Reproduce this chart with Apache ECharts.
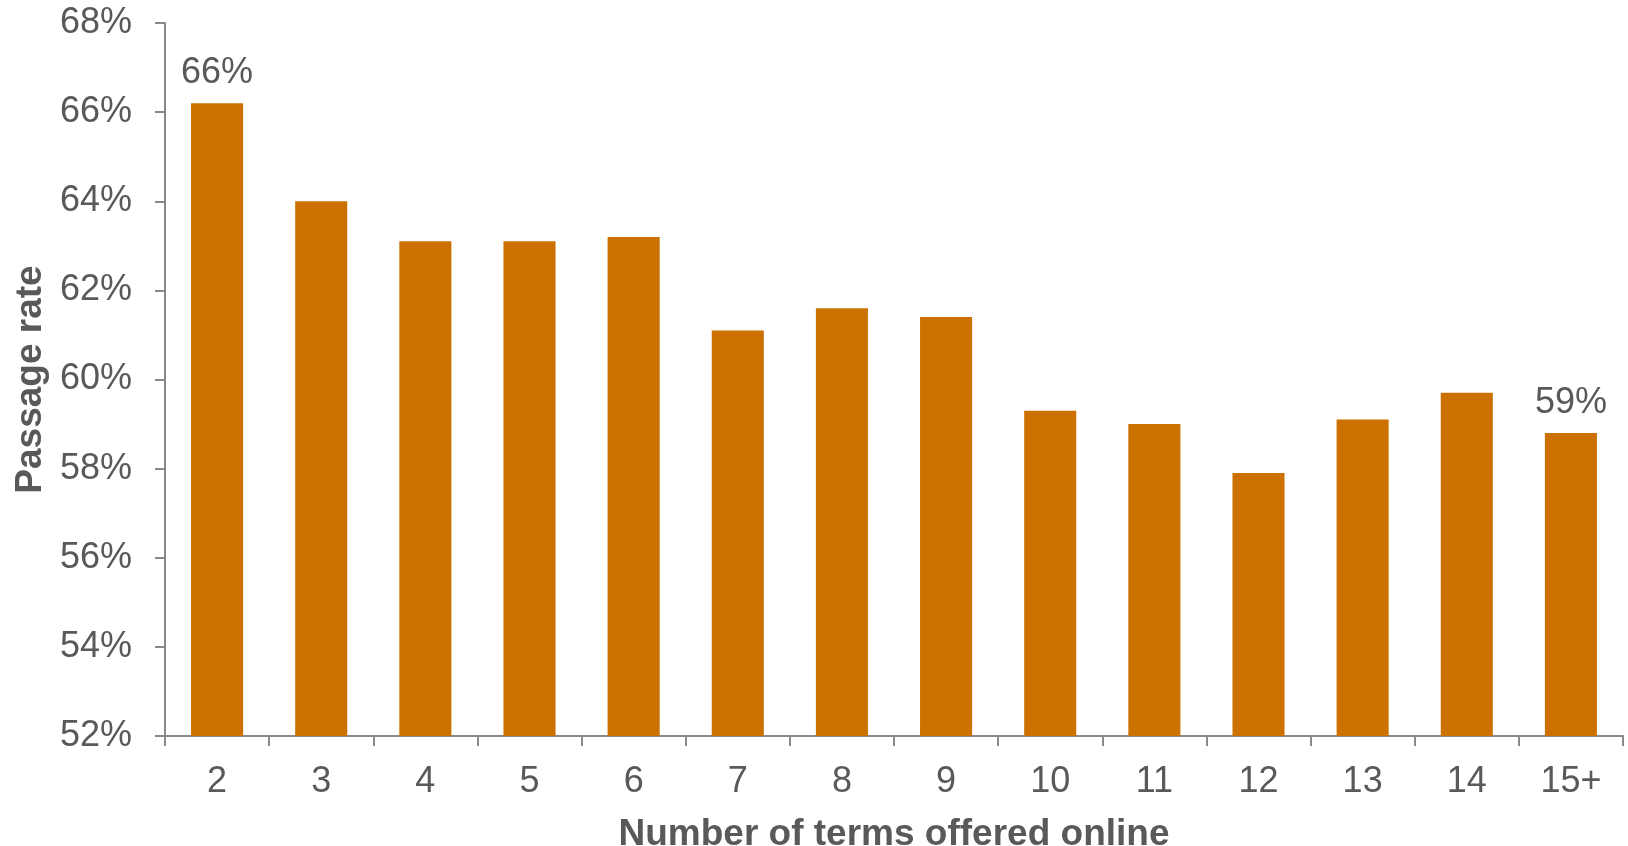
<!DOCTYPE html>
<html>
<head>
<meta charset="utf-8">
<script src="https://cdn.jsdelivr.net/npm/echarts@6/dist/echarts.min.js"></script>
<style>
  html, body { margin: 0; padding: 0; background: #ffffff; }
  #chart { width: 1628px; height: 846px; }
</style>
</head>
<body>
<div id="chart"></div>
<script>
// Number of terms a course was offered online
const categories = ['2', '3', '4', '5', '6', '7', '8', '9', '10', '11', '12', '13', '14', '15+'];
// Passage rate (%) per category
const passageRates = [66.2, 64.0, 63.1, 63.1, 63.2, 61.1, 61.6, 61.4, 59.3, 59.0, 57.9, 59.1, 59.7, 58.8];
// Only the first and last bars carry a value label
const labelledIndexes = [0, 13];
// Value axis range and step (%)
const yMin = 52, yMax = 68, yStep = 2;

const textGray = '#595959';
const axisGray = '#898989';
const barColor = '#CC7000';
const fontFamily = '"Liberation Sans", Arial, sans-serif';

const barData = passageRates.map((v, i) => ({
  value: v,
  label: { show: labelledIndexes.includes(i) }
}));

const chart = echarts.init(document.getElementById('chart'), null, { renderer: 'canvas' });
chart.setOption({
  animation: false,
  backgroundColor: '#ffffff',
  textStyle: { fontFamily: fontFamily },
  grid: { left: 165, right: 5, top: 23, bottom: 110, containLabel: false, outerBoundsMode: 'none' },
  xAxis: {
    type: 'category',
    data: categories,
    boundaryGap: true,
    name: 'Number of terms offered online',
    nameLocation: 'middle',
    nameGap: 80,
    nameTextStyle: { color: textGray, fontSize: 37, fontWeight: 'bold', fontFamily: fontFamily },
    axisLine: { show: true, lineStyle: { color: axisGray, width: 2 } },
    axisTick: { show: true, alignWithLabel: false, length: 10, lineStyle: { color: axisGray, width: 2 } },
    axisLabel: { color: textGray, fontSize: 36, margin: 28, fontFamily: fontFamily },
    splitLine: { show: false }
  },
  yAxis: {
    type: 'value',
    min: yMin,
    max: yMax,
    interval: yStep,
    name: 'Passage rate',
    nameLocation: 'middle',
    nameGap: 115,
    nameRotate: 90,
    nameTextStyle: { color: textGray, fontSize: 37, fontWeight: 'bold', fontFamily: fontFamily },
    axisLine: { show: true, lineStyle: { color: axisGray, width: 2 } },
    axisTick: { show: true, inside: false, length: 10, lineStyle: { color: axisGray, width: 2 } },
    axisLabel: { color: textGray, fontSize: 36, margin: 33, fontFamily: fontFamily, formatter: v => v + '%' },
    splitLine: { show: false }
  },
  series: [{
    type: 'bar',
    data: barData,
    barWidth: '50%',
    itemStyle: { color: barColor },
    label: {
      position: 'top',
      distance: 12,
      color: textGray,
      fontSize: 36,
      fontFamily: fontFamily,
      formatter: p => Math.round(p.value) + '%'
    }
  }]
});
</script>
</body>
</html>
